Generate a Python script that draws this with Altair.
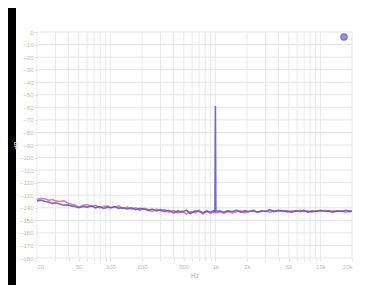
import altair as alt
import pandas as pd

freq = [20, 22, 24, 26, 28, 30, 33, 36, 39, 42,
        46, 50, 55, 60, 66, 72, 79, 86, 94, 100,
        110, 120, 130, 145, 160, 175, 190, 210, 230, 250,
        275, 300, 330, 360, 400, 440, 480, 530, 580, 640,
        700, 760, 830, 900, 960, 990, 1000, 1010, 1050, 1100,
        1200, 1300, 1450, 1600, 1750, 1900, 2100, 2300, 2500, 2750,
        3000, 3300, 3600, 4000, 4400, 4800, 5300, 5800, 6400, 7000,
        7600, 8300, 9000, 10000, 11000, 12000, 13000, 14500, 16000, 17500,
        19000, 20000]

ch_b = [-134.5, -134, -135, -135.5, -136.5, -136, -137, -138, -137.5, -138.5,
        -139, -140, -139, -139.5, -138.5, -140, -139, -140.5, -139.5, -140,
        -139, -140.5, -140, -141, -140, -141.5, -140.5, -141, -142, -141,
        -142.5, -141.5, -143, -142, -144, -142.5, -143.5, -142, -144.5, -142.5,
        -143, -144, -142.5, -143.5, -142.5, -143, -59, -142, -143, -142.5,
        -143.5, -142.5, -143, -142, -143.5, -142.5, -143, -142, -143.5, -142.5,
        -143, -141.5, -143, -142, -143, -142.5, -143.5, -142.5, -143, -142,
        -143.5, -142.5, -143, -142, -143, -142.5, -143.5, -142.5, -143, -142,
        -143, -142.5]

ch_a = [-133.5, -132.5, -133, -134, -133.5, -134.5, -135, -134.5, -136, -137,
        -138, -139.5, -138, -137.5, -139, -138, -140, -139, -138.5, -140,
        -139.5, -138.5, -140.5, -139.5, -141, -140, -142, -140.5, -141.5, -143,
        -141, -142.5, -141.5, -143.5, -142, -144, -142.5, -145, -143, -144,
        -142, -145, -143, -144.5, -143, -144, -143, -143.5, -144, -143,
        -144.5, -143, -144, -143, -142.5, -144, -143, -142.5, -143.5, -143,
        -142.5, -143.5, -142.5, -143, -142, -143.5, -142.5, -143, -142, -143,
        -142.5, -143.5, -142.5, -143, -142, -143, -142.5, -143, -142.5, -143.5,
        -142.5, -143]

series_names = ["Ch A", "Ch B"]
series_colors = ["#de6a8c", "#5a50cc"]

x_grid = [20, 30, 40, 50, 60, 70, 80, 90, 100, 200, 300, 400, 500, 600, 700,
          800, 900, 1000, 2000, 3000, 4000, 5000, 6000, 7000, 8000, 9000,
          10000, 20000]
x_major = [20, 50, 100, 200, 500, 1000, 2000, 5000, 10000, 20000]
y_ticks = list(range(0, -190, -10))

rows = []
for f, a in zip(freq, ch_a):
    rows.append({"f": f, "db": a, "ch": series_names[0], "o": 0})
for f, b in zip(freq, ch_b):
    rows.append({"f": f, "db": b, "ch": series_names[1], "o": 1})
df = pd.DataFrame(rows)

W, H = 315, 226

x_scale = alt.Scale(type="log", domain=[20, 20000], nice=False)
y_scale = alt.Scale(domain=[-180, 0], nice=False)

major_str = "[" + ",".join(str(v) for v in x_major) + "]"
x_axis = alt.Axis(values=x_grid, title="Hz", titleFontSize=7,
                  titleColor="#cccccc", titlePadding=2,
                  labelExpr="indexof(" + major_str + ", datum.value) >= 0 ? (datum.value >= 1000 ? (datum.value/1000) + 'k' : datum.value) : ''",
                  labelColor="#bbbbbb", labelFontSize=6, grid=False,
                  domain=False, tickColor="#e4e4e4",
                  tickSize=3, labelPadding=2, zindex=1)
y_axis = alt.Axis(values=y_ticks, title="dB", titleFontSize=6,
                  titleColor="#dddddd", titleX=-19,
                  labelColor="#bbbbbb", labelFontSize=6, grid=False,
                  domain=False, tickColor="#e4e4e4",
                  tickSize=3, labelPadding=1, zindex=1)

bg = alt.Chart(pd.DataFrame({"a": [0]})).mark_rect(color="white").encode(
    x=alt.value(-21), x2=alt.value(W + 20), y=alt.value(-30), y2=alt.value(H + 40)
)

vgrid = alt.Chart(pd.DataFrame({"f": x_grid})).mark_rule(
    color="#e9e9e9", strokeWidth=1).encode(
    x=alt.X("f:Q", scale=x_scale, axis=x_axis),
    y=alt.value(0), y2=alt.value(H),
)
hgrid = alt.Chart(pd.DataFrame({"db": y_ticks})).mark_rule(
    color="#e6e6e6", strokeWidth=1).encode(
    y=alt.Y("db:Q", scale=y_scale, axis=y_axis),
    x=alt.value(0), x2=alt.value(W),
)

lines = alt.Chart(df).mark_line(strokeWidth=1.6, opacity=0.85).encode(
    x=alt.X("f:Q", scale=x_scale, axis=x_axis),
    y=alt.Y("db:Q", scale=y_scale, axis=y_axis),
    color=alt.Color("ch:N",
                    scale=alt.Scale(domain=series_names, range=series_colors),
                    legend=alt.Legend(values=[series_names[1]], title=None,
                                      orient="none", legendX=W - 12, legendY=1,
                                      symbolType="circle", symbolSize=35,
                                      symbolFillColor="#7584d4",
                                      symbolStrokeColor="#7584d4",
                                      symbolOpacity=0.8, labelExpr="''",
                                      labelFontSize=6)),
    order="o:Q",
    detail="ch:N",
)

chart = alt.layer(bg, vgrid, hgrid, lines).properties(
    width=W, height=H,
    autosize=alt.AutoSizeParams(type="none"),
    padding={"left": 29, "top": 24, "right": 9, "bottom": 27},
).configure(background="black").configure_view(stroke=None)

chart.save("out.html", embed_options={"renderer": "svg", "actions": False})
